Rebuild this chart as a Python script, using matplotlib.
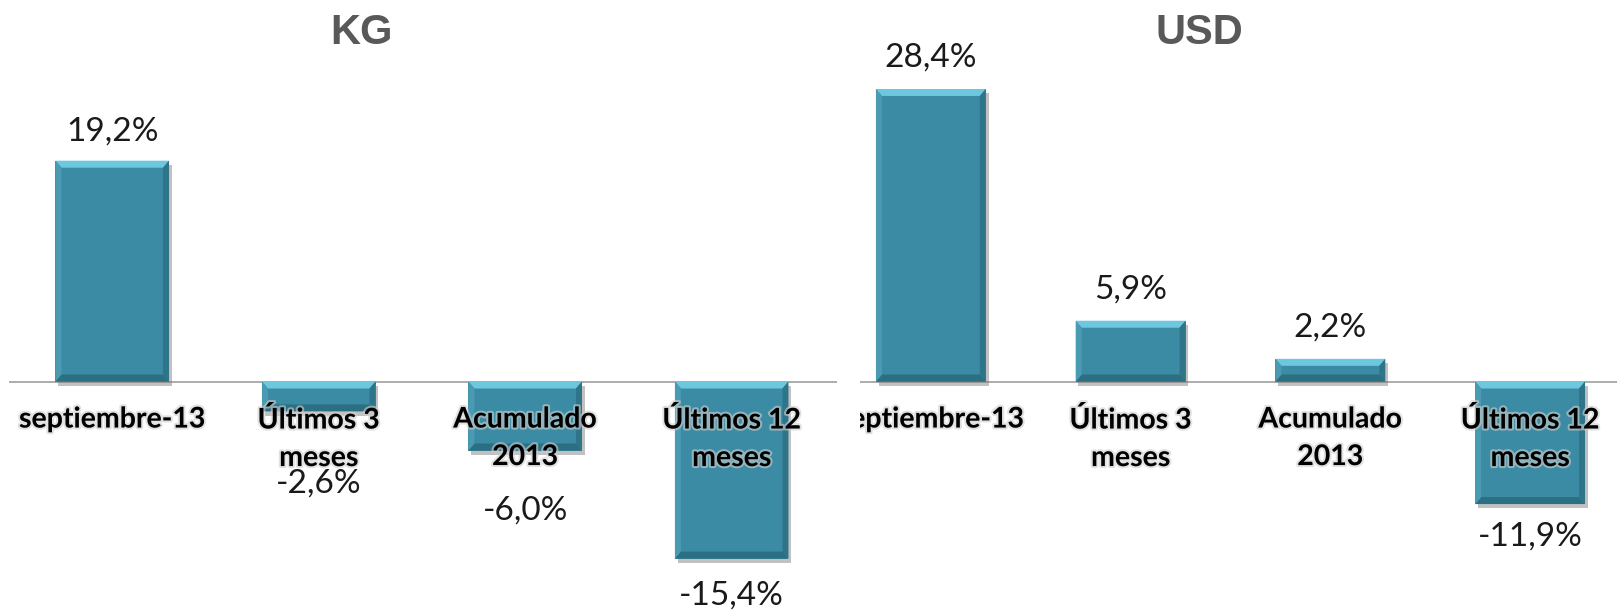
import matplotlib.pyplot as plt
import matplotlib.patheffects as pe
from matplotlib.patches import Polygon, Rectangle

categorias = ["septiembre-13", "Últimos 3\nmeses", "Acumulado\n2013", "Últimos 12\nmeses"]
kg_valores = [19.2, -2.6, -6.0, -15.4]
usd_valores = [28.4, 5.9, 2.2, -11.9]

# distancia (px) entre el extremo de la barra y su etiqueta
kg_gap = [29, 72, 60, 37]
usd_gap = [31, 31, 31, 32]

W, H = 1617, 610
fig = plt.figure(figsize=(W / 100, H / 100), dpi=100)

TEAL = "#3A8BA3"
LIGHT = "#6DC7DF"
DARK = "#2D6F82"


def fmt(v):
    return ("%.1f%%" % v).replace(".", ",")


def draw_panel(ax, valores, gaps, ylim, xlim):
    ax.set_xlim(*xlim)
    ax.set_ylim(*ylim)
    ax.axis("off")
    ax.axhline(0, color="#A6A6A6", lw=1.3, zorder=1)
    x = range(len(valores))
    bars = ax.bar(x, valores, width=0.55, color=TEAL, zorder=2,
                  path_effects=[pe.withSimplePatchShadow(offset=(2, -3), shadow_rgbFace="#777777", alpha=0.45),
                                pe.Normal()])
    # bisel de la barra
    fig.canvas.draw()
    (px0, py0), (px1, py1) = ax.transData.transform([(0, 0), (1, 1)])
    bx = 6 / (px1 - px0)
    by = 7 / (py1 - py0)
    for b in bars:
        x0, x1 = b.get_x(), b.get_x() + b.get_width()
        y0, y1 = sorted([b.get_y(), b.get_y() + b.get_height()])
        polys = [
            ([(x0, y1), (x1, y1), (x1 - bx, y1 - by), (x0 + bx, y1 - by)], LIGHT),
            ([(x0, y0), (x1, y0), (x1 - bx, y0 + by), (x0 + bx, y0 + by)], DARK),
            ([(x0, y0), (x0, y1), (x0 + bx, y1 - by), (x0 + bx, y0 + by)], "#4A9AB2"),
            ([(x1, y0), (x1, y1), (x1 - bx, y1 - by), (x1 - bx, y0 + by)], "#2F7589"),
        ]
        for pts, c in polys:
            ax.add_patch(Polygon(pts, closed=True, facecolor=c, edgecolor="none", zorder=2.1))
    for i, (v, g) in enumerate(zip(valores, gaps)):
        off = g * 0.72 if v >= 0 else -g * 0.72
        ax.annotate(fmt(v), (i, v), xytext=(0, off), textcoords="offset points",
                    ha="center", va="center", fontsize=24, family="Lato",
                    color="#1a1a1a", zorder=4)
    for i, c in enumerate(categorias):
        ax.annotate(c, (i, 0), xytext=(0, -18), textcoords="offset points",
                    ha="center", va="top", fontsize=20.5, family="Lato",
                    fontweight="bold", color="black", linespacing=1.55, zorder=3,
                    path_effects=[pe.withStroke(linewidth=3, foreground="#cfcfcf", alpha=0.6)])


# panel USD (debajo)
ax2 = fig.add_axes([831 / W, 0, 799 / W, 1])
ax2.set_zorder(0)
draw_panel(ax2, usd_valores, usd_gap, (-228.5 / 10.3, 381.5 / 10.3), (-0.5, 3.5))

# fondo blanco del panel KG que tapa el borde del USD
fig.add_artist(Rectangle((0, 0), 860 / W, 1, transform=fig.transFigure,
                         facecolor="white", edgecolor="none", zorder=0.5))

ax1 = fig.add_axes([9 / W, 0, 828 / W, 1])
ax1.set_zorder(2)
ax1.patch.set_alpha(0)
draw_panel(ax1, kg_valores, kg_gap, (-228.5 / 11.5, 381.5 / 11.5), (-0.5, 3.51))

fig.text(361 / W, 1 - 33 / H, "KG", ha="center", va="center", fontsize=30,
         family="Liberation Sans", fontweight="bold", color="#595959")
fig.text(1199 / W, 1 - 33 / H, "USD", ha="center", va="center", fontsize=30,
         family="Liberation Sans", fontweight="bold", color="#595959")

fig.savefig("out.png", dpi=100, facecolor="white")
